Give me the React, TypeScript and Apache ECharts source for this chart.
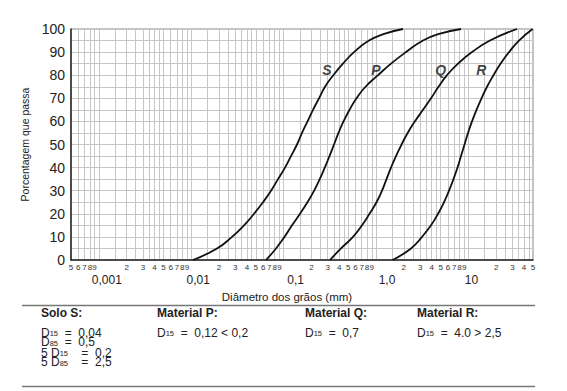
import React, { useEffect, useRef } from 'react';
import * as echarts from 'echarts';

const FONT = "'Liberation Sans', Arial, Helvetica, sans-serif";

// x domain (mm), log scale
const X_MIN_MM = 0.0005;
const X_MAX_MM = 50;

// y ticks
const yLabelValues = [0, 10, 20, 30, 40, 50, 60, 70, 80, 90, 100];

// grain-size curves: diameter (mm) and percentage passing
const sPass = [0, 5, 10, 15, 20, 25, 30, 35, 40, 45, 50, 55, 60, 65, 70, 75, 80, 85, 90, 95, 98, 100];
const sDiam = [0.01045, 0.01901, 0.02763, 0.03726, 0.0478, 0.05981, 0.07304, 0.08696, 0.1035, 0.1202, 0.1396, 0.1581, 0.1814, 0.208, 0.2415, 0.2805, 0.345, 0.4392, 0.5778, 0.8398, 1.251, 1.96];

const pPass = [0, 5, 10, 15, 20, 25, 30, 35, 40, 45, 50, 55, 60, 65, 70, 75, 80, 85, 90, 95, 98, 100];
const pDiam = [0.06449, 0.08272, 0.1022, 0.1233, 0.1505, 0.1810, 0.2140, 0.2460, 0.2790, 0.3137, 0.351, 0.3926, 0.4447, 0.5166, 0.6148, 0.7695, 1.051, 1.453, 2.111, 3.225, 4.926, 8.315];

const qPass = [0, 5, 10, 15, 20, 25, 30, 35, 40, 45, 50, 55, 60, 65, 70, 75, 80, 85, 90, 95, 100];
const qDiam = [0.3177, 0.418, 0.5635, 0.7056, 0.8502, 1.012, 1.161, 1.299, 1.453, 1.645, 1.89, 2.2, 2.63, 3.225, 3.937, 4.746, 5.867, 7.714, 10.94, 17.12, 33.56];

const rPass = [0, 5, 10, 15, 20, 25, 30, 35, 40, 45, 50, 55, 60, 65, 70, 75, 80, 85, 90, 95, 100];
const rDiam = [1.508, 2.392, 3.146, 3.937, 4.687, 5.441, 6.165, 6.896, 7.618, 8.315, 9.073, 9.897, 10.94, 12.23, 13.86, 15.9, 18.68, 22.25, 27.5, 35.28, 49.5];

// curve names and label anchor
const curveNames = ['S', 'P', 'Q', 'R'];
const curveLabelDiam = [0.295, 1.0, 5.0, 13.8];
const curveLabelPass = [82.3, 82.3, 82.3, 82.3];

// x axis ticks
const gridMultipliers = [1, 1.5, 2, 2.5, 3, 3.5, 4, 4.5, 5, 6, 7, 8, 9];
const digitMultipliers = [2, 3, 4, 5, 6, 7, 8, 9];
const decadeExponents = [-4, -3, -2, -1, 0, 1];
const decadeValues = [0.001, 0.01, 0.1, 1, 10];
const decadeLabels = ['0,001', '0,01', '0,1', '1,0', '10'];
const decadeLabelShift = [8, 7, 12, 11, 3];

// table texts
const tableHeaders = ['Solo S:', 'Material P:', 'Material Q:', 'Material R:'];

const LMIN = Math.log10(X_MIN_MM);
const LMAX = Math.log10(X_MAX_MM);

function logTicks(mults: number[]): number[] {
  const out: number[] = [];
  decadeExponents.forEach((e) => {
    mults.forEach((m) => {
      let v = Math.log10(m) + e;
      if (Math.abs(v - LMIN) < 1e-9) v = LMIN;
      if (Math.abs(v - LMAX) < 1e-9) v = LMAX;
      if (v >= LMIN && v <= LMAX) out.push(v);
    });
  });
  return out;
}

function toPairs(d: number[], p: number[]) {
  return d.map((x, i) => [Math.log10(x), p[i]]);
}

const NB = '\u00a0';

export default function App() {
  const ref = useRef<HTMLDivElement>(null);

  useEffect(() => {
    if (!ref.current) return;
    const chart = echarts.init(ref.current, undefined, { renderer: 'svg' });

    const gridValues = logTicks(gridMultipliers);
    const digitValues = logTicks(digitMultipliers);
    const decadeLog = decadeValues.map((v) => Math.log10(v));

    const decadeRich: any = {};
    decadeLabelShift.forEach((s, i) => {
      decadeRich['d' + i] = {
        fontSize: 12,
        fontFamily: FONT,
        color: '#222',
        padding: [0, 0, 0, s * 2],
      };
    });

    const curveData = [
      toPairs(sDiam, sPass),
      toPairs(pDiam, pPass),
      toPairs(qDiam, qPass),
      toPairs(rDiam, rPass),
    ];

    const lineSeries = curveData.map((data, i) => ({
      type: 'line',
      name: curveNames[i],
      data,
      xAxisIndex: 0,
      yAxisIndex: 0,
      smooth: 0.5,
      showSymbol: false,
      symbol: 'none',
      silent: true,
      lineStyle: { color: '#111', width: 1.8 },
      z: 5,
    }));

    const labelSeries = {
      type: 'scatter',
      xAxisIndex: 0,
      yAxisIndex: 0,
      symbolSize: 1,
      silent: true,
      itemStyle: { color: 'rgba(0,0,0,0)' },
      data: curveNames.map((n, i) => ({
        name: n,
        value: [Math.log10(curveLabelDiam[i]), curveLabelPass[i]],
      })),
      label: {
        show: true,
        position: 'inside',
        formatter: '{b}',
        fontSize: 14,
        fontWeight: 'bold',
        fontStyle: 'italic',
        fontFamily: FONT,
        color: '#111',
        textBorderWidth: 0,
      },
      z: 6,
    };

    const subText = (sub: string, rest: string) =>
      `{n|D}{s|${sub}}{n|${rest}}`;
    const rich = {
      n: { fontSize: 12, lineHeight: 10, fontFamily: FONT, fill: '#222', color: '#222' },
      s: { fontSize: 7.5, lineHeight: 4, fontFamily: FONT, fill: '#222', color: '#222', verticalAlign: 'bottom' },
      p: { fontSize: 12, lineHeight: 10, fontFamily: FONT, fill: '#222', color: '#222' },
    };
    const mkText = (x: number, y: number, text: string) => ({
      type: 'text',
      x,
      y,
      style: {
        text,
        rich,
        fill: '#222',
        fontSize: 12,
        fontFamily: FONT,
        verticalAlign: 'middle',
        align: 'left',
      },
    });

    const headerX = [41, 157, 305, 417];

    const graphic: any[] = [
      {
        type: 'line',
        shape: { x1: 22, y1: 305.5, x2: 535, y2: 305.5 },
        style: { stroke: '#777', lineWidth: 1.5 },
      },
      {
        type: 'line',
        shape: { x1: 22, y1: 386.5, x2: 535, y2: 386.5 },
        style: { stroke: '#777', lineWidth: 1.5 },
      },
      ...tableHeaders.map((h, i) => ({
        type: 'text',
        x: headerX[i],
        y: 313,
        style: {
          text: h,
          fill: '#222',
          font: `bold 12px ${FONT}`,
          verticalAlign: 'middle',
          align: 'left',
        },
      })),
      mkText(41, 332.5, subText('15', `${NB}${NB}=${NB}${NB}0,04`)),
      mkText(41, 342, subText('85', `${NB}${NB}=${NB}${NB}0,5`)),
      mkText(41, 352.5, `{p|5${NB}}` + subText('15', `${NB}${NB}${NB}${NB}=${NB}${NB}0,2`)),
      mkText(41, 362, `{p|5${NB}}` + subText('85', `${NB}${NB}${NB}${NB}=${NB}${NB}2,5`)),
      mkText(157, 332.5, subText('15', `${NB}${NB}=${NB}${NB}0,12${NB}<${NB}0,2`)),
      mkText(305, 332.5, subText('15', `${NB}${NB}=${NB}${NB}0,7`)),
      mkText(417, 332.5, subText('15', `${NB}${NB}=${NB}${NB}4.0${NB}>${NB}2,5`)),
    ];

    const option: any = {
      animation: false,
      backgroundColor: '#fff',
      textStyle: { fontFamily: FONT },
      grid: {
        left: 71,
        right: 34,
        top: 29,
        bottom: 131,
        show: true,
        borderColor: '#888',
        borderWidth: 1,
        containLabel: false,
      },
      xAxis: [
        {
          type: 'value',
          position: 'bottom',
          min: LMIN,
          max: LMAX,
          axisLine: { show: true, onZero: false, lineStyle: { color: '#222', width: 1.5 } },
          axisTick: { show: false, customValues: gridValues },
          splitLine: { show: true, lineStyle: { color: '#c6c6c6', width: 1 } },
          axisLabel: {
            customValues: digitValues,
            formatter: (v: number) =>
              String(Math.round(Math.pow(10, v - Math.floor(v + 1e-9)))),
            fontSize: 8,
            fontFamily: FONT,
            color: '#333',
            margin: 3,
            showMinLabel: true,
            showMaxLabel: true,
          },
          z: 3,
        },
        {
          type: 'value',
          position: 'bottom',
          min: LMIN,
          max: LMAX,
          axisLine: { show: false },
          axisTick: { show: false },
          splitLine: { show: false },
          axisLabel: {
            customValues: decadeLog,
            formatter: (v: number) => {
              const i = decadeLog.findIndex((d) => Math.abs(d - v) < 1e-6);
              return i >= 0 ? `{d${i}|${decadeLabels[i]}}` : '';
            },
            rich: decadeRich,
            fontSize: 12,
            color: '#222',
            margin: 14,
          },
          name: 'Diâmetro dos grãos (mm)',
          nameLocation: 'middle',
          nameGap: 29,
          nameTextStyle: {
            fontSize: 11.5,
            fontFamily: FONT,
            color: '#222',
            padding: [0, 30, 0, 0],
          },
        },
      ],
      yAxis: {
        type: 'value',
        min: 0,
        max: 100,
        interval: 5,
        axisLine: { show: true, onZero: false, lineStyle: { color: '#222', width: 1.5 } },
        axisTick: { show: false },
        splitLine: { show: true, lineStyle: { color: '#c6c6c6', width: 1 } },
        axisLabel: {
          customValues: yLabelValues,
          fontSize: 14,
          fontFamily: FONT,
          color: '#222',
          margin: 6,
        },
        name: 'Porcentagem que passa',
        nameLocation: 'middle',
        nameGap: 37,
        nameTextStyle: { fontSize: 10.5, fontFamily: FONT, color: '#222' },
        z: 3,
      },
      series: [...lineSeries, labelSeries],
      graphic,
    };

    chart.setOption(option);
    return () => chart.dispose();
  }, []);

  return (
    <div
      ref={ref}
      style={{ position: 'absolute', left: 0, top: 0, width: 567, height: 391 }}
    />
  );
}
